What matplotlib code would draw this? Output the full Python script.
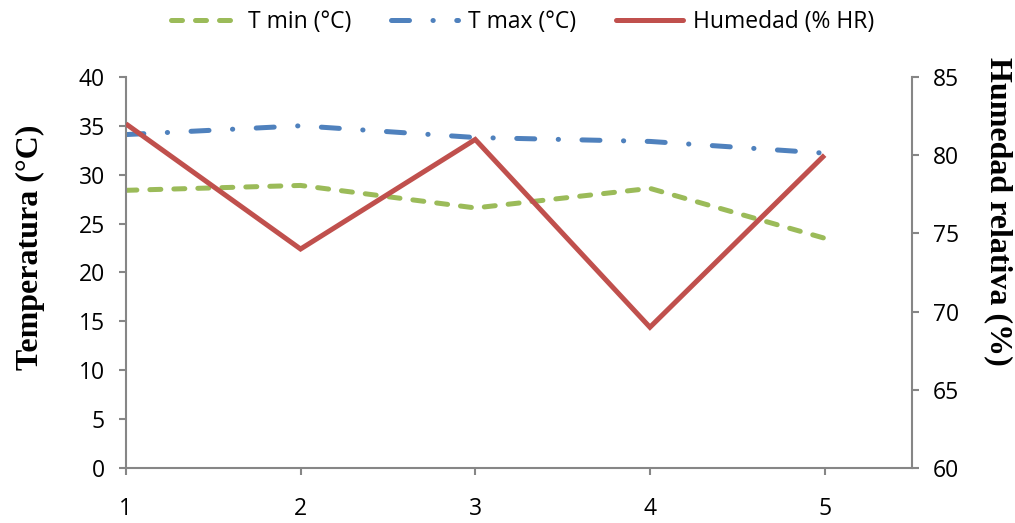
import matplotlib.pyplot as plt
from matplotlib.lines import Line2D

# data
muestreo = [1, 2, 3, 4, 5]
t_min = [28.4, 28.9, 26.6, 28.6, 23.5]
t_max = [34.1, 35.0, 33.8, 33.4, 32.2]
humedad = [82, 74, 81, 69, 80]

GREEN = "#9BBB59"
BLUE = "#4F81BD"
RED = "#C0504D"
GRAY = "#868686"
TICK_FONT = "Open Sans"

DASH_MIN = (0, (2.2, 2.6))
DASH_MAX = (0, (3.6, 4.7, 0.05, 4.7))

fig = plt.figure(figsize=(10.15, 5.23), dpi=100)
ax = fig.add_axes([0.124, 0.105, 0.7745, 0.748])
ax2 = ax.twinx()

lw = 3.6
l_min, = ax.plot(muestreo, t_min, color=GREEN, lw=lw, dash_capstyle="round",
                 linestyle=DASH_MIN, label="T min (°C)")
l_max, = ax.plot(muestreo, t_max, color=BLUE, lw=lw, dash_capstyle="round",
                 linestyle=DASH_MAX, label="T max (°C)")
l_hum, = ax2.plot(muestreo, humedad, color=RED, lw=lw, solid_capstyle="butt",
                  solid_joinstyle="miter", label="Humedad (% HR)")

ax.set_xlim(1, 5.5)
ax.set_ylim(0, 40)
ax2.set_ylim(60, 85)
ax.set_xticks(muestreo)
ax.set_yticks(range(0, 41, 5))
ax2.set_yticks(range(60, 86, 5))

for a in (ax, ax2):
    for s in a.spines.values():
        s.set_color(GRAY)
        s.set_linewidth(1.5)
    a.spines["top"].set_visible(False)
    a.tick_params(colors=GRAY, labelcolor="black", length=5, width=1.5, labelsize=16.5)
    for lab in a.get_xticklabels() + a.get_yticklabels():
        lab.set_fontfamily(TICK_FONT)
ax.spines["right"].set_visible(False)
ax2.spines["left"].set_visible(False)
ax2.spines["bottom"].set_visible(False)
ax.tick_params(axis="x", pad=16)
ax.tick_params(axis="y", pad=10)
ax2.tick_params(axis="y", pad=10)

ax.set_ylabel("Temperatura (°C)", fontfamily="Liberation Serif", fontweight="bold",
              fontsize=23, labelpad=24)
ax2.set_ylabel("Humedad relativa (%)", fontfamily="Liberation Serif", fontweight="bold",
               fontsize=23, rotation=-90, labelpad=39)
# Excel placed both titles above the axis centre
ax.yaxis.label.set_y(0.565)
ax2.yaxis.label.set_y(0.655)

handles = [
    Line2D([], [], color=GREEN, lw=lw, dash_capstyle="round", linestyle=DASH_MIN),
    Line2D([], [], color=BLUE, lw=lw, dash_capstyle="round", linestyle=DASH_MAX),
    Line2D([], [], color=RED, lw=lw, solid_capstyle="round"),
]
fig.legend(handles, [l_min.get_label(), l_max.get_label(), l_hum.get_label()],
           loc="upper center", bbox_to_anchor=(0.515, 1.02), ncol=3, frameon=False,
           prop={"family": TICK_FONT, "size": 16.5}, handlelength=2.9, columnspacing=1.75,
           handletextpad=0.45)

fig.savefig("out.png", dpi=100)
